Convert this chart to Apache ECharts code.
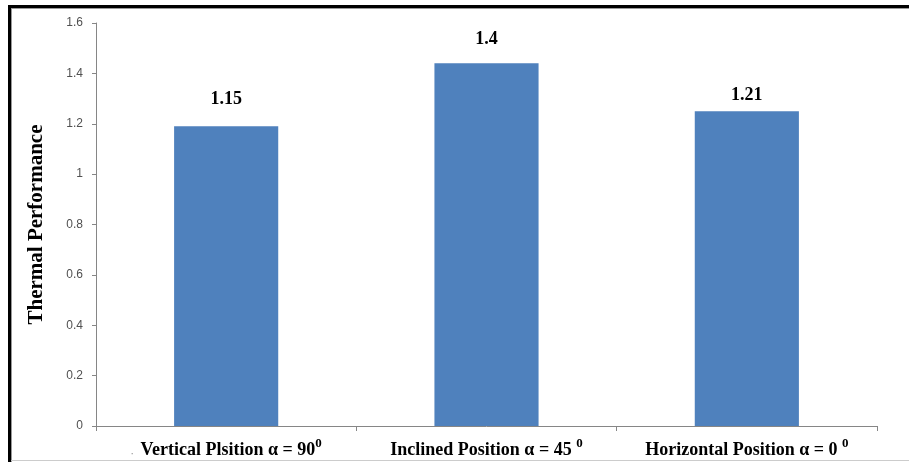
<!DOCTYPE html>
<html><head><meta charset="utf-8">
<script src="https://cdn.jsdelivr.net/npm/echarts@6/dist/echarts.min.js"></script>
<style>html,body{margin:0;padding:0;background:#fff}#c{width:909px;height:462px}</style>
</head><body><div id="c"></div>
<script>
var categories = ["Vertical Plsition α = 90", "Inclined Position α = 45 ", "Horizontal Position α = 0 "];
var superscripts = ["0", "0", "0"];
var values = [1.19, 1.44, 1.25];
var valueLabels = ["1.15", "1.4", "1.21"];
var yTicks = [0, 0.2, 0.4, 0.6, 0.8, 1, 1.2, 1.4, 1.6];

var labelDistances = [18, 15, 7];
var chart = echarts.init(document.getElementById('c'));
var serif = '"Liberation Serif","Times New Roman",serif';
chart.setOption({
  animation: false,
  grid: {left: 96, right: 32, top: 23, bottom: 36},
  xAxis: {
    type: 'category',
    data: categories,
    axisLine: {lineStyle: {color: '#868686', width: 1}},
    axisTick: {show: true, length: 5, lineStyle: {color: '#868686'}},
    axisLabel: {
      margin: 11,
      formatter: function (v, i) {
        return (i === 0 ? '{d|·}  ' : '') + '{t|' + v + '}{s|' + superscripts[i] + '}';
      },
      rich: {
        t: {fontFamily: serif, fontWeight: 'bold', fontSize: 18, color: '#000', lineHeight: 22, verticalAlign: 'bottom'},
        s: {fontFamily: serif, fontWeight: 'bold', fontSize: 13, color: '#000', lineHeight: 22, verticalAlign: 'top', padding: [0, 0, 4, 0]},
        d: {fontSize: 10, color: '#888', lineHeight: 22, verticalAlign: 'bottom'}
      }
    }
  },
  yAxis: {
    type: 'value',
    min: 0, max: 1.6, interval: 0.2,
    name: 'Thermal Performance',
    nameLocation: 'middle',
    nameGap: 49,
    nameTextStyle: {fontFamily: serif, fontWeight: 'bold', fontSize: 21, color: '#000'},
    axisLine: {show: true, lineStyle: {color: '#868686', width: 1}},
    axisTick: {show: true, length: 4, lineStyle: {color: '#868686'}},
    splitLine: {show: false},
    axisLabel: {
      margin: 13,
      fontFamily: '"Liberation Sans",Arial,sans-serif', fontSize: 12, color: '#505050',
      formatter: function (v) {
        for (var k = 0; k < yTicks.length; k++) { if (Math.abs(yTicks[k] - v) < 1e-9) return String(yTicks[k]); }
        return '';
      }
    }
  },
  series: [{
    type: 'bar',
    barWidth: '40%',
    itemStyle: {color: '#4F81BD'},
    data: values.map(function (v, i) {
      return {
        value: v,
        label: {
          show: true, position: 'top', distance: labelDistances[i],
          formatter: valueLabels[i],
          fontFamily: serif, fontWeight: 'bold', fontSize: 18, color: '#000'
        }
      };
    })
  }],
  graphic: [
    {type: 'rect', shape: {x: 8, y: 5, width: 3, height: 457}, style: {fill: '#000'}, silent: true},
    {type: 'rect', shape: {x: 8, y: 5, width: 901, height: 3}, style: {fill: '#000'}, silent: true},
    {type: 'rect', shape: {x: 11, y: 8, width: 1, height: 454}, style: {fill: '#999'}, silent: true},
    {type: 'rect', shape: {x: 11, y: 8, width: 898, height: 1}, style: {fill: '#999'}, silent: true},
    {type: 'rect', shape: {x: 11, y: 460, width: 898, height: 1}, style: {fill: '#ccc'}, silent: true}
  ]
});
</script></body></html>
